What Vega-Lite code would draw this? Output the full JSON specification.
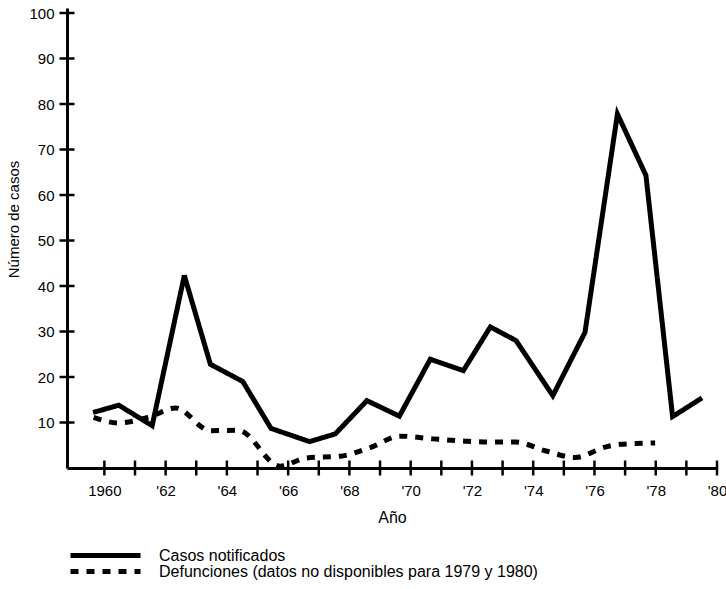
{
  "$schema": "https://vega.github.io/schema/vega-lite/v6.json",
  "width": 650,
  "height": 460,
  "autosize": {"type": "none"},
  "padding": {"left": 67, "top": 8, "right": 9, "bottom": 121},
  "background": "white",
  "config": {
    "view": {"stroke": null},
    "font": "Liberation Sans",
    "axis": {
      "domainColor": "black",
      "domainWidth": 3,
      "ticks": false,
      "grid": false,
      "labelColor": "black",
      "labelFont": "Liberation Sans",
      "labelFontSize": 15,
      "titleFont": "Liberation Sans",
      "titleFontSize": 15,
      "titleFontWeight": "normal",
      "titleColor": "black"
    }
  },
  "datasets": {
    "series": [
      {"serie": "Casos notificados", "anio": 1959.63, "valor": 12.2},
      {"serie": "Casos notificados", "anio": 1960.47, "valor": 13.8},
      {"serie": "Casos notificados", "anio": 1961.56, "valor": 9.3},
      {"serie": "Casos notificados", "anio": 1962.61, "valor": 42.3},
      {"serie": "Casos notificados", "anio": 1963.46, "valor": 22.8},
      {"serie": "Casos notificados", "anio": 1964.52, "valor": 19.0},
      {"serie": "Casos notificados", "anio": 1965.44, "valor": 8.7},
      {"serie": "Casos notificados", "anio": 1966.70, "valor": 5.8},
      {"serie": "Casos notificados", "anio": 1967.54, "valor": 7.5},
      {"serie": "Casos notificados", "anio": 1968.57, "valor": 14.8},
      {"serie": "Casos notificados", "anio": 1969.63, "valor": 11.4},
      {"serie": "Casos notificados", "anio": 1970.64, "valor": 23.9},
      {"serie": "Casos notificados", "anio": 1971.72, "valor": 21.4},
      {"serie": "Casos notificados", "anio": 1972.60, "valor": 31.0},
      {"serie": "Casos notificados", "anio": 1973.44, "valor": 28.0},
      {"serie": "Casos notificados", "anio": 1974.64, "valor": 15.9},
      {"serie": "Casos notificados", "anio": 1975.69, "valor": 29.8},
      {"serie": "Casos notificados", "anio": 1976.75, "valor": 77.8},
      {"serie": "Casos notificados", "anio": 1977.68, "valor": 64.3},
      {"serie": "Casos notificados", "anio": 1978.55, "valor": 11.3},
      {"serie": "Casos notificados", "anio": 1979.51, "valor": 15.4},
      {"serie": "Defunciones (datos no disponibles para 1979 y 1980)", "anio": 1959.65, "valor": 11.1},
      {"serie": "Defunciones (datos no disponibles para 1979 y 1980)", "anio": 1960.46, "valor": 9.9},
      {"serie": "Defunciones (datos no disponibles para 1979 y 1980)", "anio": 1961.50, "valor": 11.3},
      {"serie": "Defunciones (datos no disponibles para 1979 y 1980)", "anio": 1962.32, "valor": 13.2},
      {"serie": "Defunciones (datos no disponibles para 1979 y 1980)", "anio": 1963.46, "valor": 8.2},
      {"serie": "Defunciones (datos no disponibles para 1979 y 1980)", "anio": 1964.37, "valor": 8.3},
      {"serie": "Defunciones (datos no disponibles para 1979 y 1980)", "anio": 1965.74, "valor": 0.4},
      {"serie": "Defunciones (datos no disponibles para 1979 y 1980)", "anio": 1966.59, "valor": 2.2},
      {"serie": "Defunciones (datos no disponibles para 1979 y 1980)", "anio": 1967.70, "valor": 2.6},
      {"serie": "Defunciones (datos no disponibles para 1979 y 1980)", "anio": 1968.68, "valor": 4.5},
      {"serie": "Defunciones (datos no disponibles para 1979 y 1980)", "anio": 1969.66, "valor": 7.0},
      {"serie": "Defunciones (datos no disponibles para 1979 y 1980)", "anio": 1970.73, "valor": 6.4},
      {"serie": "Defunciones (datos no disponibles para 1979 y 1980)", "anio": 1971.78, "valor": 5.9},
      {"serie": "Defunciones (datos no disponibles para 1979 y 1980)", "anio": 1972.59, "valor": 5.7},
      {"serie": "Defunciones (datos no disponibles para 1979 y 1980)", "anio": 1973.41, "valor": 5.7},
      {"serie": "Defunciones (datos no disponibles para 1979 y 1980)", "anio": 1974.39, "valor": 3.8},
      {"serie": "Defunciones (datos no disponibles para 1979 y 1980)", "anio": 1975.37, "valor": 2.3},
      {"serie": "Defunciones (datos no disponibles para 1979 y 1980)", "anio": 1976.35, "valor": 4.6},
      {"serie": "Defunciones (datos no disponibles para 1979 y 1980)", "anio": 1976.84, "valor": 5.2},
      {"serie": "Defunciones (datos no disponibles para 1979 y 1980)", "anio": 1977.98, "valor": 5.5}
    ],
    "xticks": [
      {"anio": 1960}, {"anio": 1961}, {"anio": 1962}, {"anio": 1963}, {"anio": 1964},
      {"anio": 1965}, {"anio": 1966}, {"anio": 1967}, {"anio": 1968}, {"anio": 1969},
      {"anio": 1970}, {"anio": 1971}, {"anio": 1972}, {"anio": 1973}, {"anio": 1974},
      {"anio": 1975}, {"anio": 1976}, {"anio": 1977}, {"anio": 1978}, {"anio": 1979},
      {"anio": 1980}
    ],
    "yticks": [
      {"valor": 10}, {"valor": 20}, {"valor": 30}, {"valor": 40}, {"valor": 50},
      {"valor": 60}, {"valor": 70}, {"valor": 80}, {"valor": 90}, {"valor": 100}
    ]
  },
  "layer": [
    {
      "data": {"name": "series"},
      "transform": [{"filter": "datum.serie === 'Casos notificados'"}],
      "mark": {"type": "line", "color": "black", "strokeWidth": 5, "interpolate": "linear"},
      "encoding": {
        "x": {
          "field": "anio", "type": "quantitative",
          "scale": {"domain": [1958.78, 1980], "nice": false, "zero": false},
          "axis": {
            "title": "Año",
            "titleFontSize": 16,
            "titlePadding": 11,
            "values": [1960, 1962, 1964, 1966, 1968, 1970, 1972, 1974, 1976, 1978, 1980],
            "labelExpr": "datum.value === 1960 ? '1960' : \"'\" + substring(toString(datum.value), 2)",
            "labelPadding": 15,
            "labelFlush": false,
            "labelOverlap": false
          }
        },
        "y": {
          "field": "valor", "type": "quantitative",
          "scale": {"domain": [0, 101.1], "nice": false, "zero": true},
          "axis": {
            "title": "Número de casos",
            "values": [10, 20, 30, 40, 50, 60, 70, 80, 90, 100],
            "labelPadding": 13,
            "titleX": -46,
            "titleY": 211
          }
        },
        "strokeDash": {
          "field": "serie", "type": "nominal",
          "scale": {
            "domain": ["Casos notificados", "Defunciones (datos no disponibles para 1979 y 1980)"],
            "range": [[1, 0], [8, 8]]
          },
          "legend": {
            "orient": "none",
            "legendX": 1,
            "legendY": 540,
            "title": null,
            "symbolType": "stroke",
            "symbolSize": 4900,
            "symbolStrokeWidth": 5,
            "symbolStrokeColor": "black",
            "labelFontSize": 16,
            "labelColor": "black",
            "labelOffset": 16,
            "labelLimit": 0,
            "clipHeight": 15,
            "rowPadding": -4
          }
        }
      }
    },
    {
      "data": {"name": "series"},
      "transform": [{"filter": "datum.serie !== 'Casos notificados'"}],
      "mark": {"type": "line", "color": "black", "strokeWidth": 5, "interpolate": "monotone"},
      "encoding": {
        "x": {"field": "anio", "type": "quantitative"},
        "y": {"field": "valor", "type": "quantitative"},
        "strokeDash": {"field": "serie", "type": "nominal"}
      }
    },
    {
      "data": {"name": "xticks"},
      "mark": {"type": "tick", "orient": "vertical", "size": 15, "thickness": 2.5, "color": "black", "opacity": 1},
      "encoding": {
        "x": {"field": "anio", "type": "quantitative"},
        "y": {"datum": 0, "type": "quantitative"}
      }
    },
    {
      "data": {"name": "yticks"},
      "mark": {"type": "tick", "orient": "horizontal", "size": 15, "thickness": 2.5, "color": "black", "opacity": 1},
      "encoding": {
        "y": {"field": "valor", "type": "quantitative"},
        "x": {"datum": 1958.78, "type": "quantitative"}
      }
    }
  ]
}
